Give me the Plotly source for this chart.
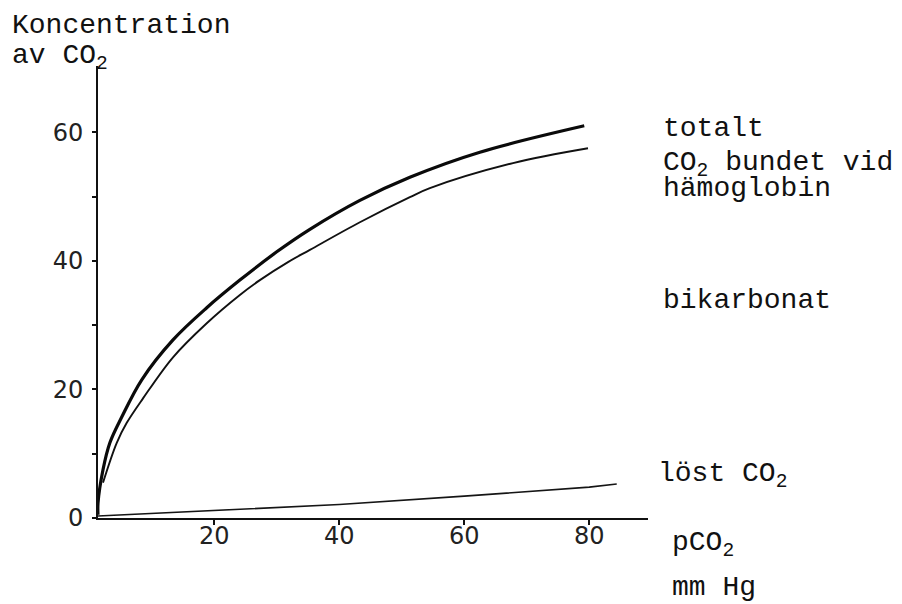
import plotly.graph_objects as go

# ---- data ----
pco2_totalt = [1.4, 1.4, 2.2, 3.3, 5.2, 8.4, 13.4, 18.8, 24.1, 30.0, 35.3, 43.3, 51.3, 62.5, 79.2]
conc_totalt = [0.5, 2.3, 7.5, 11.7, 15.7, 21.5, 27.7, 32.7, 37.0, 41.4, 44.9, 49.4, 53.0, 56.9, 61.0]

pco2_hb = [2.2, 4.4, 6.0, 8.6, 13.4, 18.8, 24.1, 27.3, 31.8, 35.3, 43.3, 51.3, 54.5, 67.8, 79.8]
conc_hb = [5.5, 11.7, 14.8, 18.6, 25.0, 30.3, 34.7, 37.0, 39.8, 41.7, 46.0, 49.9, 51.3, 55.2, 57.5]

pco2_lost = [1.4, 20, 40, 60, 80, 84.4]
conc_lost = [0.3, 1.2, 2.1, 3.4, 4.8, 5.3]

y_tick_vals = [0, 10, 20, 30, 40, 50, 60]
y_tick_text = ["0", "", "20", "", "40", "", "60"]
x_tick_vals = [20, 40, 60, 80]
x_tick_text = ["20", "40", "60", "80"]

# ---- layout geometry (pixels, in screenshot coordinates) ----
OFF = 8  # page body margin
W, H = 902 - OFF, 604 - OFF
L, R, T, B = 98 - OFF, 648 - OFF, 66 - OFF, 518 - OFF  # plot area edges in figure coords


def px(x, y):
    x, y = x - OFF, y - OFF
    return (x - L) / (R - L), (B - y) / (B - T)


MONO = "Liberation Mono, DejaVu Sans Mono, monospace"
INK = "#111111"

fig = go.Figure()
fig.add_trace(go.Scatter(x=pco2_totalt, y=conc_totalt, mode="lines",
                         line=dict(color="#0a0a0a", width=3.2, shape="spline", smoothing=1),
                         name="totalt", hoverinfo="skip"))
fig.add_trace(go.Scatter(x=pco2_hb, y=conc_hb, mode="lines",
                         line=dict(color="#111111", width=1.9, shape="spline", smoothing=1),
                         name="CO2 bundet vid hämoglobin", hoverinfo="skip"))
fig.add_trace(go.Scatter(x=pco2_lost, y=conc_lost, mode="lines",
                         line=dict(color="#151515", width=1.6),
                         name="löst CO2", hoverinfo="skip"))

labels = [
    ("Koncentration", 10, 25),
    ("av CO<sub>2</sub>", 10, 58),
    ("totalt", 661, 128),
    ("CO<sub>2</sub> bundet vid", 661, 165),
    ("hämoglobin", 661, 188),
    ("bikarbonat", 661, 300),
    ("löst CO<sub>2</sub>", 656, 475),
    ("pCO<sub>2</sub>", 670, 544),
    ("mm Hg", 670, 587),
]
for text, x, y in labels:
    ax, ay = px(x, y)
    fig.add_annotation(text=text, x=ax, y=ay, xref="paper", yref="paper",
                       xanchor="left", yanchor="middle", showarrow=False,
                       font=dict(family=MONO, size=28, color=INK))

fig.update_layout(
    width=W, height=H,
    margin=dict(l=L, r=W - R, t=T, b=H - B, pad=0),
    paper_bgcolor="white", plot_bgcolor="white",
    showlegend=False,
    font=dict(family="DejaVu Sans", color=INK),
)
fig.update_xaxes(range=[1.4, 89.4], showgrid=False, zeroline=False,
                 showline=True, linecolor="#111", linewidth=2,
                 tickmode="array", tickvals=x_tick_vals, ticktext=x_tick_text,
                 ticks="outside", ticklen=5, tickwidth=1.5, tickcolor="#111",
                 ticklabelstandoff=-10,
                 tickfont=dict(family="DejaVu Sans", size=24, color="#222"))
fig.update_yaxes(range=[0, 70.3], showgrid=False, zeroline=False,
                 showline=True, linecolor="#111", linewidth=2,
                 tickmode="array", tickvals=y_tick_vals, ticktext=y_tick_text,
                 ticks="outside", ticklen=4, tickwidth=1.5, tickcolor="#111",
                 ticklabelstandoff=4,
                 tickfont=dict(family="DejaVu Sans", size=24, color="#222"))

fig.write_html("out.html")
